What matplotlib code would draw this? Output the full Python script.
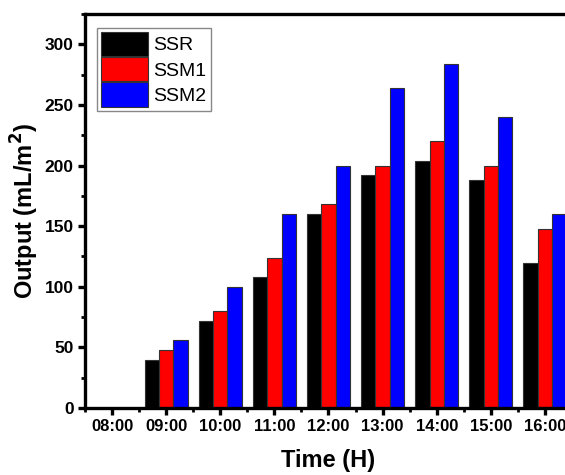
import numpy as np
import matplotlib
matplotlib.use("Agg")
from matplotlib import pyplot as plt
from matplotlib.ticker import MultipleLocator

plt.rcParams["font.family"] = ["Liberation Sans", "DejaVu Sans"]

times = ["08:00", "09:00", "10:00", "11:00", "12:00", "13:00", "14:00", "15:00", "16:00"]
ssr = [0, 40, 72, 108, 160, 192, 204, 188, 120]
ssm1 = [0, 48, 80, 124, 168, 200, 220, 200, 148]
ssm2 = [0, 56, 100, 160, 200, 264, 284, 240, 160]

fig = plt.figure(figsize=(5.65, 4.75), dpi=100)
# axes runs past the right edge of the figure on purpose
ax = fig.add_axes([0.1504, 0.141, 0.862, 0.8295])

x = np.arange(len(times))
w = 0.8 / 3
edge = dict(edgecolor="#333333", linewidth=0.8)
ax.bar(x - w, ssr, w, color="black", label="SSR", **edge)
ax.bar(x, ssm1, w, color="red", label="SSM1", **edge)
ax.bar(x + w, ssm2, w, color="blue", label="SSM2", **edge)

ax.set_xlim(-0.5, 8.5)
ax.set_ylim(0, 325)
ax.set_xticks(x)
ax.set_xticklabels(times)
ax.xaxis.set_minor_locator(MultipleLocator(0.5))
ax.yaxis.set_major_locator(MultipleLocator(50))
ax.yaxis.set_minor_locator(MultipleLocator(25))

for s in ax.spines.values():
    s.set_linewidth(2.4)
ax.tick_params(which="major", direction="out", length=5, width=2.4, labelsize=12, pad=3)
ax.tick_params(axis="y", which="major", labelsize=12.5)
ax.tick_params(which="minor", direction="out", length=3, width=2)
for lab in ax.get_xticklabels() + ax.get_yticklabels():
    lab.set_fontweight("bold")

ax.set_xlabel("Time (H)", fontsize=17, fontweight="bold", labelpad=11)
ax.set_ylabel("Output (mL/m$^\\mathbf{2}$)", fontsize=17, fontweight="bold", labelpad=3)

leg = ax.legend(loc="upper left", bbox_to_anchor=(0.025, 0.965), fontsize=14,
                fancybox=False, edgecolor="#888888", framealpha=1,
                handlelength=2.4, handleheight=1.55, labelspacing=0.05,
                handletextpad=0.3, borderpad=0.2, borderaxespad=0)
leg.get_frame().set_linewidth(1.0)

fig.savefig("out.png", dpi=100)
